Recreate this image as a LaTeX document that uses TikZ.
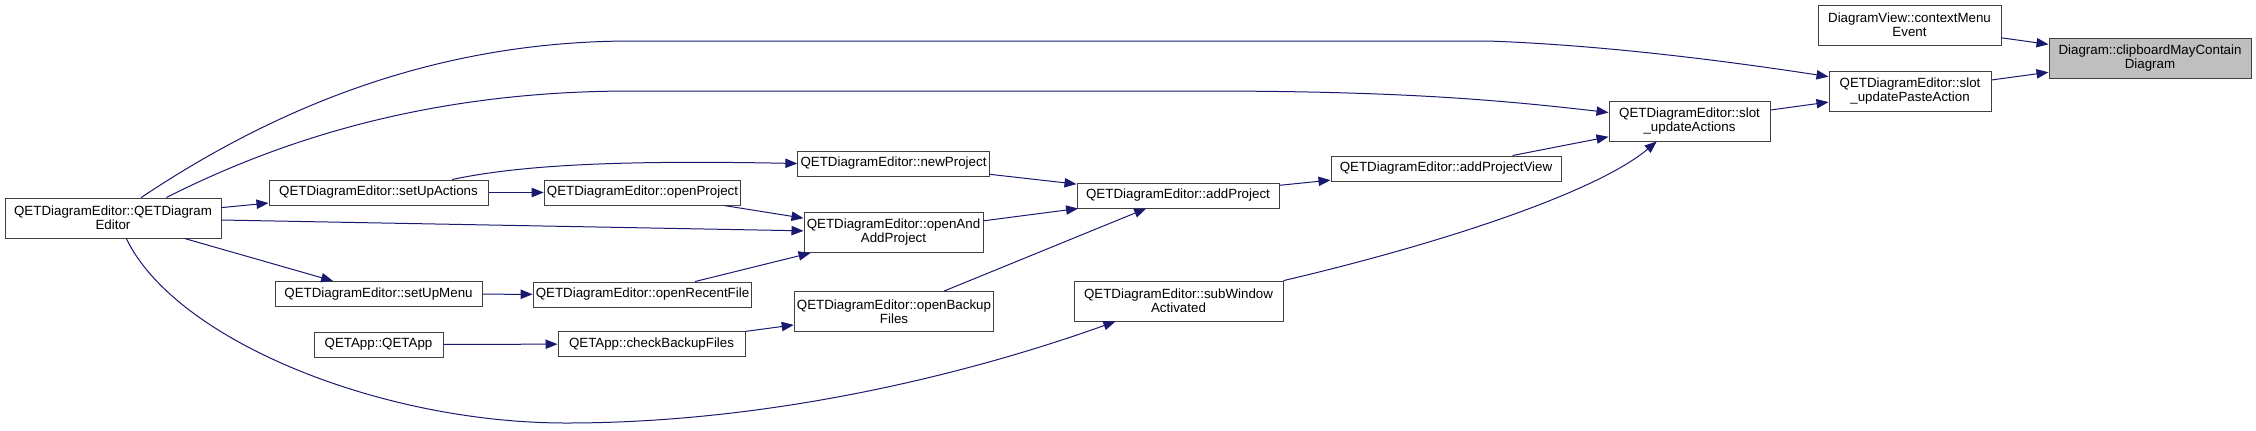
\documentclass[tikz,border=0pt]{standalone}
\usepackage{fontspec}
\setmainfont{Liberation Sans}
\usetikzlibrary{arrows.meta}
\definecolor{dxblue}{HTML}{191970}
\definecolor{dxgray}{HTML}{BFBFBF}
\definecolor{dxline}{HTML}{404040}

\begin{document}
\begin{tikzpicture}[
      x=0.75pt, y=-0.75pt,
      font=\fontsize{10}{10.5}\selectfont,
      fn/.style={draw=dxline, line width=0.75pt, fill=white, inner xsep=2pt,
                 inner ysep=0pt, align=center, minimum height=18.75pt},
      two/.style={minimum height=30pt},
      hl/.style={fn, two, fill=dxgray},
      ar/.style={-{Triangle[length=9pt,width=7pt]}, dxblue, line width=0.75pt},
    ]
    \useasboundingbox (0,0) rectangle (2256,430);

    \node[fn, two, minimum width=162pt]    (qde)      at (113,218)    {QETDiagramEditor::QETDiagram\\Editor};
    \node[fn, minimum width=164.25pt]      (setupact) at (378.5,192.5) {QETDiagramEditor::setUpActions};
    \node[fn, minimum width=155.25pt]      (setupmen) at (378.5,294)  {QETDiagramEditor::setUpMenu};
    \node[fn, minimum width=96.75pt]       (qetapp)   at (378.5,344.5) {QETApp::QETApp};
    \node[fn, minimum width=146.25pt]      (openproj) at (642.5,192.5) {QETDiagramEditor::openProject};
    \node[fn, minimum width=161.25pt]      (recent)   at (642.5,294.5) {QETDiagramEditor::openRecentFile};
    \node[fn, minimum width=140.25pt]      (chkback)  at (651.5,344)  {QETApp::checkBackupFiles};
    \node[fn, minimum width=143.25pt]      (newproj)  at (893.5,163.5) {QETDiagramEditor::newProject};
    \node[fn, two, minimum width=134.25pt] (openadd)  at (893.5,232.5) {QETDiagramEditor::openAnd\\AddProject};
    \node[fn, two, minimum width=148.5pt]  (openback) at (894,311.5)  {QETDiagramEditor::openBackup\\Files};
    \node[fn, minimum width=151.5pt]       (addproj)  at (1178,195.5) {QETDiagramEditor::addProject};
    \node[fn, two, minimum width=156.75pt] (subwin)   at (1178.5,301) {QETDiagramEditor::subWindow\\Activated};
    \node[fn, minimum width=172.5pt]       (addview)  at (1446,168.5) {QETDiagramEditor::addProjectView};
    \node[fn, two, minimum width=120.75pt] (updact)   at (1689.5,121) {QETDiagramEditor::slot\\\_updateActions};
    \node[fn, two, minimum width=137.25pt] (cmenu)    at (1909.5,25)  {DiagramView::contextMenu\\Event};
    \node[fn, two, minimum width=121.5pt]  (updpaste) at (1910,91)    {QETDiagramEditor::slot\\\_updatePasteAction};
    \node[hl, minimum width=151.5pt]       (clip)     at (2150,58.5)  {Diagram::clipboardMayContain\\Diagram};

    \draw[ar] (cmenu) -- (clip);
    \draw[ar] (updpaste) -- (clip);
    \draw[ar] (updact) -- (updpaste);
    \draw[ar] (addview) -- (updact);
    \draw[ar] (addproj) -- (addview);
    \draw[ar] (newproj) -- (addproj);
    \draw[ar] (openadd) -- (addproj);
    \draw[ar] (openback) -- (addproj);
    \draw[ar] (openproj) -- (openadd);
    \draw[ar] (qde) -- (openadd);
    \draw[ar] (recent) -- (openadd);
    \draw[ar] (setupact) -- (openproj);
    \draw[ar] (qde) -- (setupact);
    \draw[ar] (qde) -- (setupmen);
    \draw[ar] (setupmen) -- (recent);
    \draw[ar] (qetapp) -- (chkback);
    \draw[ar] (chkback) -- (openback);
    \draw[ar] (setupact.10.5) .. controls (520,165) and (620,160) .. (newproj.west);
    \draw[ar] (subwin.11.4) .. controls (1448,242) and (1598,191) .. (updact.212.4);
    \draw[ar] (qde.36.5) .. controls (290,98) and (450,41) .. (632,41) -- (1488,41)
      .. controls (1600,45) and (1720,60) .. (updpaste.170);
    \draw[ar] (qde.21) .. controls (300,130) and (450,91) .. (632,91) -- (1202,91)
      .. controls (1400,91) and (1500,100) .. (updact.174);
    \draw[ar] (qde.303) .. controls (175,340) and (380,423) .. (566,423)
      .. controls (780,423) and (980,370) .. (subwin.198);
  \end{tikzpicture}
\end{document}
